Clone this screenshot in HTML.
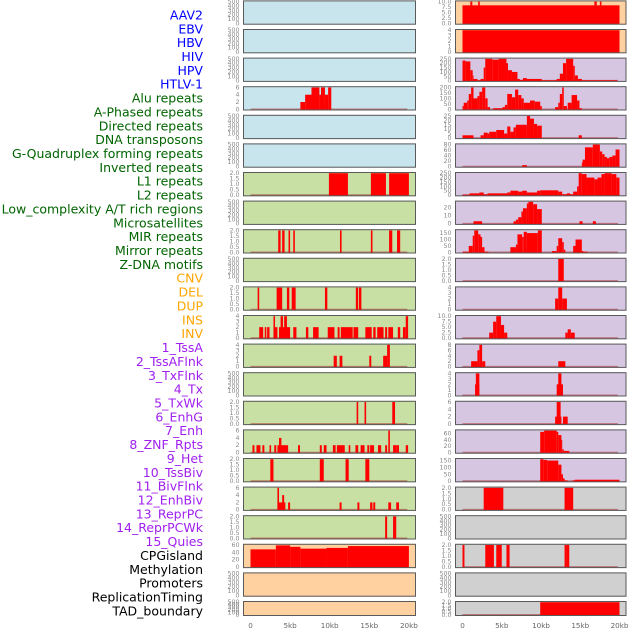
<!DOCTYPE html>
<html><head><meta charset="utf-8">
<style>
html,body{margin:0;padding:0;background:#fff;}
svg{display:block;font-family:"DejaVu Sans","Liberation Sans",sans-serif;}
</style></head>
<body>
<svg id="chart" width="630" height="630" viewBox="0 0 630 630" xmlns="http://www.w3.org/2000/svg"></svg>
<script>
// ---- data ----
const trackLabels = ["AAV2","EBV","HBV","HIV","HPV","HTLV-1","Alu repeats","A-Phased repeats","Directed repeats","DNA transposons","G-Quadruplex forming repeats","Inverted repeats","L1 repeats","L2 repeats","Low_complexity A/T rich regions","Microsatellites","MIR repeats","Mirror repeats","Z-DNA motifs","CNV","DEL","DUP","INS","INV","1_TssA","2_TssAFlnk","3_TxFlnk","4_Tx","5_TxWk","6_EnhG","7_Enh","8_ZNF_Rpts","9_Het","10_TssBiv","11_BivFlnk","12_EnhBiv","13_ReprPC","14_ReprPCWk","15_Quies","CPGisland","Methylation","Promoters","ReplicationTiming","TAD_boundary"];
const labelGroups = [0,0,0,0,0,0,1,1,1,1,1,1,1,1,1,1,1,1,1,2,2,2,2,2,3,3,3,3,3,3,3,3,3,3,3,3,3,3,3,4,4,4,4,4];
const groupColors = ["#0000ff","#006400","#ffa500","#a020f0","#000000"];
const xTickLabels = ["0","5kb","10kb","15kb","20kb"];
const xTickValues = [0,5,10,15,20];

const T500 = ["0","100","200","300","400","500"];
const T2 = ["0.0","0.5","1.0","1.5","2.0"];
const T4 = ["0","1","2","3","4"];
const T6 = ["0","2","4","6"];
const T8 = ["0","2","4","6","8"];
const T10 = ["0.0","2.5","5.0","7.5","10.0"];
const T20 = ["0","10","20"];
const T25 = ["0","5","10","15","20","25"];
const T60 = ["0","20","40","60"];
const T80 = ["0","20","40","60","80"];
const T150 = ["0","50","100","150"];
const T200 = ["0","50","100","150","200"];
const T250 = ["0","50","100","150","200","250"];

// segments: [startKb, endKb, value]
const segAlu = [[6.3,6.9,2],[6.9,7.7,4],[7.7,8.7,6],[8.7,8.9,4],[8.9,9.4,6],[9.4,9.8,4],[9.8,10.2,6]];
const segL1 = [[9.9,12.3,2],[15.2,17.1,2],[17.5,20,2]];
const segMIR = [[3.5,3.8,2],[4.0,4.3,2],[4.8,5.0,2],[5.4,5.6,2],[11.3,11.5,2],[15.2,15.4,2],[17.5,17.9,2],[18.5,18.9,2]];
const segDEL = [[0.9,1.1,2],[3.3,4.0,2],[4.6,4.9,2],[5.2,5.7,2],[9.4,9.7,2],[13.3,13.6,2],[13.7,14.0,2]];
const segDUP = [[1.1,1.6,2],[1.8,2.0,2],[2.1,2.4,2],[2.9,3.4,2],[2.9,3.1,4],[3.6,5.0,2],[3.8,4.1,4],[4.25,4.6,4],[5.4,5.8,2],[7.0,7.3,2],[7.9,8.6,2],[9.75,10.6,2],[11.0,11.25,2],[11.4,12.9,2],[13.0,13.6,2],[14.5,15.3,2],[15.5,15.8,2],[16.0,16.8,2],[17.0,17.25,2],[17.4,18.0,2],[18.6,18.9,2],[19.25,19.6,2],[19.6,19.9,4]];
const segINS = [[10.5,10.9,2],[11.25,11.6,2],[15.0,15.25,2],[16.75,17.25,2],[17.25,17.6,4]];
const segTxWk = [[13.4,13.6,2],[14.4,14.6,2],[17.9,18.25,2]];
const segEnhG = [[0.25,0.5,2],[0.75,1.25,2],[1.5,1.75,2],[2.4,2.6,2],[3.0,3.25,2],[3.4,4.75,2],[3.6,3.9,4],[6.0,6.25,2],[8.75,9.0,2],[9.25,9.6,2],[10.4,10.75,2],[10.9,11.9,2],[12.4,12.6,2],[13.25,13.6,2],[13.9,14.4,2],[14.75,15.0,2],[15.1,15.6,2],[16.1,16.5,2],[17.0,17.25,2],[17.4,17.6,6],[18.0,18.4,2],[18.4,18.75,2],[19.6,19.9,2]];
const segEnh = [[2.5,2.9,2],[8.75,9.25,2],[12.0,12.4,2],[14.5,15.0,2]];
const segZNF = [[3.4,4.4,2],[3.4,3.6,6],[4.0,4.25,4],[4.75,5.0,2],[11.25,11.5,2],[13.5,13.75,2],[15.1,15.4,2],[15.5,15.75,2],[17.4,17.75,2],[18.4,18.75,2]];
const segHet = [[17.0,17.25,2],[18.0,18.4,2]];
const segCpG = [[0,3.2,48],[3.2,5,59],[5,6.3,55],[6.3,9.6,50],[9.6,12.3,52],[12.3,20,57]];

const segAAV2 = [[0,20,8.3],[1,1.25,10],[2,2.2,10],[16.8,17.1,10],[17.5,17.7,10]];
const segEBV = [[0,20,4]];
const segHIV = [[0,0.4,230],[0.4,1,220],[1,1.3,120],[1.3,1.4,60],[1.4,1.9,20],[1.9,2.3,5],[2.3,2.7,20],[2.7,2.9,150],[2.9,3.8,250],[3.8,4.6,240],[4.6,5.6,250],[5.6,5.8,200],[5.8,6.3,120],[6.3,7,100],[7,7.3,20],[7.3,7.7,10],[7.7,8.2,30],[8.2,10.1,20],[10.1,12,5],[12,12.4,20],[12.4,12.8,80],[12.8,13.2,200],[13.2,14.1,250],[14.1,14.3,170],[14.3,14.7,60],[14.7,15.2,20],[15.2,19.7,5]];
const segHPV = [[0,0.15,30],[0.15,0.6,60],[0.6,0.8,80],[0.8,1.1,140],[1.1,1.4,200],[1.4,1.9,100],[1.9,2.15,120],[2.15,2.5,160],[2.5,2.9,200],[2.9,3.2,100],[3.2,3.5,20],[3.9,5.1,10],[5.1,5.4,20],[5.4,5.7,40],[5.7,6.3,140],[6.3,6.7,110],[6.7,7.1,180],[7.1,7.5,130],[7.5,7.8,100],[7.8,8.6,60],[8.6,9.2,80],[9.2,9.9,70],[9.9,10.1,30],[11.8,12.2,20],[12.2,12.4,60],[12.4,12.7,140],[12.7,12.9,200],[12.9,13.3,30],[13.4,13.9,60],[13.9,14.6,130],[14.6,14.9,80],[14.9,15.2,10]];
const segHTLV = [[0,1.4,3],[2.3,2.7,3],[2.7,3.2,6],[3.2,3.4,5],[3.4,4.3,7],[4.3,5.3,9],[5.3,5.7,5],[5.7,6.1,13],[6.1,6.5,7],[6.5,6.8,12],[6.8,8.2,15],[8.2,8.6,25],[8.6,9.1,22],[9.1,9.5,16],[9.5,10.1,14],[14.8,15.2,3]];
const segAPh = [[7.6,8.2,5],[15.2,15.3,15],[15.3,15.6,25],[15.6,16.6,70],[16.6,17.5,80],[17.5,17.8,55],[17.8,18.1,45],[18.1,18.4,35],[18.4,18.7,30],[18.7,19.1,35],[19.1,19.5,40],[19.5,20,62]];
const segDir = [[0,0.9,5],[0.9,2.15,20],[2.15,2.7,30],[2.7,3.2,10],[3.2,5.7,20],[5.7,6.1,30],[6.1,7.1,50],[7.1,7.6,40],[7.6,8.2,50],[8.2,9.5,30],[9.5,9.9,50],[9.9,12.2,55],[12.2,12.7,40],[12.7,13.3,10],[13.3,13.7,20],[13.7,14.1,10],[14.1,14.6,40],[14.6,14.8,100],[14.8,15.2,250],[15.2,15.8,240],[15.8,16.8,200],[16.8,17.2,180],[17.2,17.7,200],[17.7,18.1,240],[18.1,19,250],[19,19.6,240],[19.6,20,200]];
const segDNA = [[1.4,2.5,3],[6.5,6.8,3],[6.8,7.1,5],[7.1,7.5,8],[7.5,7.7,15],[7.7,8.2,19],[8.2,8.4,25],[8.4,9,28],[9,9.5,24],[9.5,10.1,18],[14.9,15.3,3],[16.6,17,3]];
const segGQ = [[0,0.8,5],[0.8,1.3,50],[1.3,1.5,130],[1.5,2,175],[2,2.3,140],[2.3,2.5,120],[2.5,2.8,40],[2.8,3.3,5],[6.1,6.8,40],[6.8,7,60],[7,7.6,140],[7.6,7.8,120],[7.8,8.2,160],[8.2,9.6,150],[9.6,10.1,175],[11.4,12,10],[12,12.2,50],[12.2,12.7,110],[12.7,12.9,80],[12.9,13.1,20],[14.1,14.4,50],[14.4,15.2,100],[15.2,15.4,10],[15.4,15.9,5]];
const segInv = [[12.2,12.9,2]];
const segR11 = [[11.8,12.2,2],[12.2,12.7,4],[12.7,13.3,2]];
const segR12 = [[3.4,3.9,2.5],[3.9,4.3,7.5],[4.3,4.9,10],[4.9,5.3,6],[5.3,5.7,2.5],[13.1,13.4,2.5],[13.4,13.8,4],[13.8,14.3,2.5]];
const segR13 = [[1.1,1.9,2],[1.9,2.15,6],[2.15,2.5,8],[2.5,2.9,2],[12.2,13.1,2]];
const segR14 = [[1.6,2.15,2],[1.7,2.15,4],[12.0,12.8,2],[12.2,12.6,4]];
const segR15 = [[11.8,12.6,2],[12.0,12.5,6],[12.8,13.4,2]];
const segR16 = [[9.9,10.4,65],[10.4,12.0,70],[12.0,12.2,65],[12.2,12.6,55],[12.6,12.7,40],[12.7,12.9,10],[12.9,13.6,5]];
const segR17 = [[9.9,10.3,160],[10.3,10.8,155],[10.8,12.2,150],[12.2,12.6,120],[12.6,12.8,50],[12.8,13.0,20],[13.0,13.4,5],[14.0,14.3,5],[14.3,20,10]];
const segR18 = [[2.7,5.2,2],[13.0,14.1,2]];
const segR20 = [[0,0.25,2],[2.9,4.0,2],[4.3,5.0,2],[5.6,6.0,2],[13.0,13.3,2],[13.3,13.6,2]];
const segR22 = [[9.9,20,2]];

const leftMax = [500,500,500,6,500,500,2,500,2,500,2,4,4,500,2,6,2,6,2,60,500,500];
const leftTicks = [T500,T500,T500,T6,T500,T500,T2,T500,T2,T500,T2,T4,T4,T500,T2,T6,T2,T6,T2,T60,T500,T500];
const leftSeries = [null,null,null,segAlu,null,null,segL1,null,segMIR,null,segDEL,segDUP,segINS,null,segTxWk,segEnhG,segEnh,segZNF,segHet,segCpG,null,null];
const leftBg = ["b","b","b","b","b","b","g","g","g","g","g","g","g","g","g","g","g","g","g","o","o","o"];

const rightMax = [10,4,250,200,25,80,250,27,171,2,4,10,8,4,6,69,160,2,500,2,500,2];
const rightTicks = [T10,T4,T250,T200,T25,T80,T250,T20,T150,T2,T4,T10,T8,T4,T6,T60,T150,T2,T500,T2,T500,T2];
const rightSeries = [segAAV2,segEBV,segHIV,segHPV,segHTLV,segAPh,segDir,segDNA,segGQ,segInv,segR11,segR12,segR13,segR14,segR15,segR16,segR17,segR18,null,segR20,null,segR22];
const rightBg = ["o","o","p","p","p","p","p","p","p","p","p","p","p","p","p","p","p","g2","g2","g2","g2","g2"];

const bgColors = {b:"#c8e4ec",g:"#c8e0a4",o:"#ffd0a0",p:"#d6c6e2",g2:"#d0d0d0"};

// ---- drawing ----
const NS = "http://www.w3.org/2000/svg";
const svg = document.getElementById("chart");
function mk(tag, attrs, parent){
  const e = document.createElementNS(NS, tag);
  for (const k in attrs) e.setAttribute(k, attrs[k]);
  (parent||svg).appendChild(e);
  return e;
}
const cols = [
  {x:243, w:173, x0:250.5, kbPx:7.92, maxs:leftMax, ticks:leftTicks, series:leftSeries, bg:leftBg, side:"left"},
  {x:455, w:171.5, x0:462.5, kbPx:7.85, maxs:rightMax, ticks:rightTicks, series:rightSeries, bg:rightBg, side:"right"}
];
function rowTop(i){ return 0.4 + i*28.6; }
function rowH(i){ return i===21 ? 15 : 24.3; }

// labels
trackLabels.forEach((t,i)=>{
  const el = mk("text",{x:203,y:15+i*13.86+4.4,"text-anchor":"end","font-size":"12.5",fill:groupColors[labelGroups[i]]});
  
  
  el.textContent = t;
});

cols.forEach(c=>{
  const xs = kb => c.x0 + kb*c.kbPx;
  for (let i=0;i<22;i++){
    const top = rowTop(i), h = rowH(i);
    const g = mk("g",{});
    
    
    mk("rect",{x:c.x,y:top,width:c.w,height:h,fill:bgColors[c.bg[i]]},g);
    const ybot = top + h - 1.2, ytop = top + 1.2;
    const max = c.maxs[i];
    const ys = v => ybot - Math.min(v,max)/max*(ybot-ytop);
    const seg = c.series[i];
    if (seg){
      mk("line",{x1:xs(0),x2:xs(19.8),y1:ybot,y2:ybot,stroke:"rgba(170,40,40,0.55)","stroke-width":1.6},g);
      seg.forEach(s=>{
        const r = mk("rect",{x:xs(s[0]),y:ys(s[2]),width:Math.max(0.8,xs(s[1])-xs(s[0])),height:ybot-ys(s[2])+0.6,fill:"#ff0000"},g);
        
        
      });
    }
    mk("rect",{x:c.x+0.5,y:top+0.5,width:c.w-1,height:h-1,fill:"none",stroke:"#5a5a5a","stroke-width":1},g);
    const tks = c.ticks[i];
    tks.forEach(t=>{
      const v = parseFloat(t);
      const tt = mk("text",{x:c.x-3.5,y:ys(v)+2,"text-anchor":"end","font-size":"6.3",fill:"#888"},g);
      
      
      tt.textContent = t;
    });
  }
  xTickValues.forEach((v,k)=>{
    const t = mk("text",{x:xs(v),y:628,"text-anchor":"middle","font-size":"7.2",fill:"#666"});
    
    
    t.textContent = xTickLabels[k];
  });
});
</script>
</body></html>
